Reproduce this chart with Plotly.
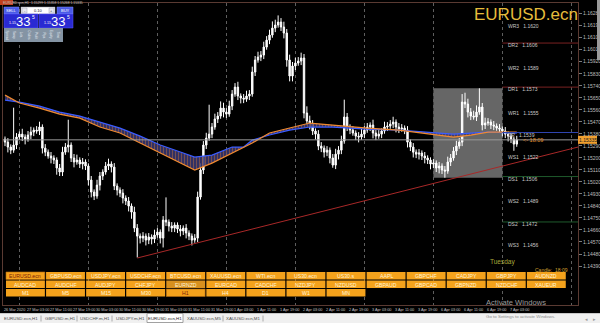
import plotly.graph_objects as go

W, H = 600, 323

# ---------------- data ----------------
first_open = 1.15340
close = [
    1.15318, 1.15281, 1.15258, 1.15296, 1.15356, 1.15378, 1.15356, 1.15341, 1.15371, 1.15393,
    1.15408, 1.15401, 1.15431, 1.15273, 1.15243, 1.15214, 1.15199, 1.15184, 1.15124, 1.15094,
    1.15243, 1.15281, 1.15296, 1.15199, 1.15169, 1.15184, 1.15154, 1.15169, 1.15139, 1.15034,
    1.14944, 1.14914, 1.14996, 1.15064, 1.15094, 1.15139, 1.15154, 1.15131, 1.14989, 1.14959,
    1.14936, 1.14899, 1.14877, 1.14839, 1.14794, 1.14674, 1.14614, 1.14599, 1.14614, 1.14584,
    1.14607, 1.14592, 1.14622, 1.14644, 1.14599, 1.14734, 1.14719, 1.14689, 1.14674, 1.14697,
    1.14667, 1.14652, 1.14674, 1.14637, 1.14614, 1.14584, 1.14599, 1.14907, 1.15109, 1.15296,
    1.15348, 1.15378, 1.15431, 1.15491, 1.15513, 1.15573, 1.15543, 1.15528, 1.15588, 1.15678,
    1.15730, 1.15663, 1.15648, 1.15640, 1.15663, 1.15678, 1.15843, 1.15933, 1.15955, 1.15970,
    1.16030, 1.16082, 1.16120, 1.16172, 1.16195, 1.16217, 1.16180, 1.16135, 1.15933, 1.15813,
    1.15888, 1.15910, 1.15925, 1.15948, 1.15536, 1.15476, 1.15453, 1.15401, 1.15378, 1.15288,
    1.15273, 1.15243, 1.15258, 1.15199, 1.15146, 1.15228, 1.15258, 1.15326, 1.15506, 1.15431,
    1.15408, 1.15386, 1.15363, 1.15356, 1.15378, 1.15408, 1.15431, 1.15446, 1.15386, 1.15363,
    1.15378, 1.15401, 1.15431, 1.15438, 1.15453, 1.15468, 1.15431, 1.15416, 1.15423, 1.15408,
    1.15318, 1.15281, 1.15243, 1.15228, 1.15236, 1.15214, 1.15199, 1.15184, 1.15154, 1.15161,
    1.15124, 1.15139, 1.15109, 1.15101, 1.15169, 1.15199, 1.15251, 1.15288, 1.15318, 1.15618,
    1.15603, 1.15543, 1.15513, 1.15506, 1.15543, 1.15581, 1.15446, 1.15461, 1.15468, 1.15446,
    1.15438, 1.15423, 1.15416, 1.15401, 1.15378, 1.15363, 1.15341, 1.15303, 1.15335,
]
up_wick_pips = [
    2, 3, 2, 28, 3, 2, 4, 2, 3, 4,
    2, 3, 4, 2, 3, 2, 3, 2, 2, 3,
    4, 3, 19, 2, 3, 4, 2, 3, 2, 2,
    3, 2, 4, 3, 2, 3, 4, 2, 3, 2,
    2, 3, 2, 3, 2, 4, 3, 2, 3, 2,
    3, 2, 4, 3, 2, 3, 17, 2, 3, 2,
    2, 3, 2, 3, 2, 2, 3, 4, 5, 3,
    4, 22, 3, 4, 3, 5, 4, 3, 4, 3,
    3, 4, 2, 3, 4, 3, 4, 3, 4, 3,
    4, 3, 4, 5, 4, 5, 3, 4, 3, 4,
    3, 4, 3, 4, 3, 5, 4, 3, 2, 3,
    3, 2, 3, 2, 3, 4, 3, 4, 13, 3,
    2, 3, 2, 3, 4, 3, 3, 2, 4, 3,
    3, 2, 4, 3, 3, 4, 2, 3, 3, 2,
    3, 2, 3, 2, 3, 2, 3, 2, 2, 3,
    2, 3, 2, 3, 4, 3, 3, 4, 3, 6,
    7, 4, 3, 4, 5, 14, 3, 4, 3, 2,
    3, 2, 3, 2, 3, 2, 3, 2, 3,
]
down_wick_pips = [
    3, 4, 3, 2, 3, 2, 3, 4, 2, 3,
    3, 2, 3, 4, 3, 2, 4, 3, 5, 3,
    3, 2, 4, 3, 4, 2, 3, 4, 3, 4,
    4, 3, 2, 4, 3, 2, 3, 4, 3, 4,
    3, 4, 3, 4, 5, 3, 16, 4, 3, 4,
    3, 4, 3, 2, 4, 7, 3, 4, 3, 3,
    3, 4, 3, 4, 3, 4, 2, 3, 2, 3,
    3, 2, 3, 2, 3, 2, 4, 3, 2, 3,
    2, 3, 4, 3, 2, 3, 2, 3, 2, 3,
    3, 2, 3, 2, 3, 2, 3, 4, 5, 4,
    4, 3, 2, 3, 4, 3, 4, 3, 4, 3,
    3, 4, 3, 4, 2, 3, 4, 3, 2, 3,
    3, 2, 3, 4, 2, 3, 2, 3, 4, 3,
    2, 3, 2, 3, 2, 3, 4, 3, 2, 3,
    4, 3, 4, 3, 4, 3, 4, 3, 4, 3,
    3, 4, 3, 5, 2, 3, 2, 3, 2, 3,
    3, 4, 3, 2, 3, 2, 4, 3, 2, 3,
    3, 2, 3, 4, 3, 4, 3, 5, 2,
]

ma_bars = [0, 5, 12, 19, 26, 33, 40, 47, 54, 61, 66, 72, 79, 83, 86, 92, 99, 106, 114, 126, 137, 151, 156, 162, 168, 178]
ma_fast = [1.15670, 1.15611, 1.15573, 1.15528, 1.15498, 1.15431, 1.15386, 1.15311, 1.15236, 1.15161,
           1.15109, 1.15161, 1.15236, 1.15273, 1.15311, 1.15386, 1.15423, 1.15461, 1.15446, 1.15423,
           1.15408, 1.15371, 1.15356, 1.15371, 1.15393, 1.15393]
ma_slow = [1.15633, 1.15618, 1.15588, 1.15543, 1.15513, 1.15468, 1.15423, 1.15363, 1.15296, 1.15244,
           1.15206, 1.15221, 1.15281, 1.15281, 1.15333, 1.15371, 1.15408, 1.15431, 1.15431, 1.15416,
           1.15408, 1.15386, 1.15378, 1.15386, 1.15393, 1.15386]

trend_bars = [46, 199.3]
trend_prices = [1.14450, 1.15281]

prev_day_bars = [149, 173]          # Monday 6 Apr session
bid_price = 1.15335

pivot_names = ["WR3", "DR2", "WR2", "DR1", "WR1", "DP", "WS1", "DS1", "WS2", "DS2", "WS3"]
pivot_values = [1.1620, 1.1606, 1.1589, 1.1573, 1.1555, 1.1539, 1.1522, 1.1506, 1.1489, 1.1472, 1.1456]
pivot_start_bar = 173

price_ticks = [1.16280, 1.16190, 1.16100, 1.16010, 1.15920, 1.15830, 1.15740, 1.15650, 1.15560, 1.15470, 1.15380,
               1.15290, 1.15200, 1.15110, 1.15020, 1.14930, 1.14840, 1.14750, 1.14660, 1.14570, 1.14480, 1.14390]

day_start_bars = [5, 29, 53, 77, 101, 125, 149, 173, 197]
time_label_bars = [0, 8, 16, 24, 32, 40, 48, 56, 64, 72, 80, 88, 96, 104, 112, 120, 128, 136, 144, 152, 160, 168, 176]
time_labels = ["26 Mar 2020", "27 Mar 03:00", "27 Mar 11:00", "27 Mar 19:00", "30 Mar 03:00", "30 Mar 11:00",
               "30 Mar 19:00", "31 Mar 03:00", "31 Mar 11:00", "31 Mar 19:00", "1 Apr 03:00", "1 Apr 11:00",
               "1 Apr 19:00", "2 Apr 03:00", "2 Apr 11:00", "2 Apr 19:00", "3 Apr 03:00", "3 Apr 11:00",
               "3 Apr 19:00", "6 Apr 03:00", "6 Apr 11:00", "6 Apr 19:00", "7 Apr 03:00"]

row1_symbols = ["EURUSD.ecn", "GBPUSD.ecn", "USDJPY.ecn", "USDCHF.ecn", "BTCUSD.ecn", "XAUUSD.ecn", "WTI.ecn",
                "US30.ecn", "US30.s", "AAPL", "GBPCHF", "CADJPY", "GBPJPY", "AUDNZD"]
row2_symbols = ["AUDCAD", "AUDCHF", "AUDJPY", "CHFJPY", "EURNZD", "EURCAD", "CADCHF",
                "NZDJPY", "NZDUSD", "GBPAUD", "GBPCAD", "GBPNZD", "NZDCHF", "XAUEUR"]
row3_periods = ["M1", "M5", "M15", "M30", "H1", "H4", "D1", "W1", "MN"]

tab_names = ["EURUSD.ecn,H1", "GBPUSD.m,H1", "USDCHF.m,H1", "USDJPY.m,H1", "EURUSD.ecn,H1", "XAUUSD.ecn,M5", "XAUUSD.ecn,M1"]
active_tab = 4

header_text = "EURUSD.ecn,H1  1.15299 1.15358 1.15268 1.15335"
quote_big = "33"
quote_small = "1.15"
quote_pip = "5"
lot_text = "0.10"

# ---------------- derived ----------------
bars = list(range(len(close)))
opens = [first_open] + close[:-1]
highs = [max(o, c) + u * 0.0001 for o, c, u in zip(opens, close, up_wick_pips)]
lows = [min(o, c) - d * 0.0001 for o, c, d in zip(opens, close, down_wick_pips)]
box_hi = max(highs[prev_day_bars[0]:prev_day_bars[1]])
box_lo = min(lows[prev_day_bars[0]:prev_day_bars[1]])

FONT = "Liberation Sans, Arial, sans-serif"


def px(x):
    return x / W


def py(y):
    return 1 - y / H


fig = go.Figure()

# MA ribbon
fig.add_trace(go.Scatter(x=ma_bars, y=ma_slow, mode="lines", line=dict(color="#3a5cff", width=1.2),
                         hoverinfo="skip"))
fig.add_trace(go.Scatter(x=ma_bars, y=ma_fast, mode="lines", line=dict(color="#f08a30", width=1.2),
                         fill="tonexty", fillcolor="rgba(40,48,120,0.85)",
                         fillpattern=dict(shape="|", fgcolor="#c8763c", bgcolor="rgba(40,48,120,0.85)",
                                          size=3, solidity=0.45),
                         hoverinfo="skip"))
# trend line
fig.add_trace(go.Scatter(x=trend_bars, y=trend_prices, mode="lines", line=dict(color="#a82828", width=1),
                         hoverinfo="skip"))
# candles
fig.add_trace(go.Candlestick(x=bars, open=opens, high=highs, low=lows, close=close,
                             increasing=dict(line=dict(color="#ffffff", width=1), fillcolor="#ffffff"),
                             decreasing=dict(line=dict(color="#ffffff", width=1), fillcolor="#ffffff"),
                             whiskerwidth=0, hoverinfo="skip"))

shapes = []
ann = []

# previous-day box
shapes.append(dict(type="rect", xref="x", yref="y", x0=prev_day_bars[0], x1=prev_day_bars[1],
                   y0=box_lo, y1=box_hi, fillcolor="#666666", line=dict(width=0), layer="below"))
# bid line
shapes.append(dict(type="line", xref="paper", yref="y", x0=px(3), x1=px(578), y0=bid_price, y1=bid_price,
                   line=dict(color="#9a9a9a", width=1)))

# pivot lines and labels
pivot_colors = {"DR": "#7a2222", "DP": "#2f44b0", "DS": "#1f5a2c"}
for name, val in zip(pivot_names, pivot_values):
    key = name[:2]
    if key in pivot_colors:
        shapes.append(dict(type="line", xref="x", yref="y", x0=pivot_start_bar, x1=199.3, y0=val, y1=val,
                           line=dict(color=pivot_colors[key], width=1)))
    ann.append(dict(xref="x", yref="y", x=pivot_start_bar, y=val, text=f"{name}&nbsp;&nbsp;&nbsp;{val:.4f}",
                    showarrow=False, xanchor="left", yanchor="middle", xshift=4, yshift=-2,
                    font=dict(family=FONT, size=5, color="#c8c8c8")))

# big symbol title
ann.append(dict(xref="paper", yref="paper", x=px(526), y=py(15), text="EURUSD.ecn", showarrow=False,
                xanchor="center", yanchor="middle", font=dict(family=FONT, size=17, color="#e6bd3c")))
# Tuesday
ann.append(dict(xref="x", yref="paper", x=173, y=py(262), text="Tuesday", showarrow=False,
                xanchor="center", yanchor="middle", font=dict(family=FONT, size=6.5, color="#a8a83a")))
# candle timer
ann.append(dict(xref="x", yref="y", x=179.5, y=bid_price, text="<- 18:09", showarrow=False,
                xanchor="left", yanchor="middle", font=dict(family=FONT, size=5.5, color="#e0902a")))
ann.append(dict(xref="paper", yref="paper", x=px(570), y=py(270), text="Candle:&nbsp;&nbsp;18:09", showarrow=False,
                xanchor="right", yanchor="middle", font=dict(family=FONT, size=5, color="#d8a030")))

# bid box on price axis
shapes.append(dict(type="rect", xref="paper", yref="y", x0=px(578), x1=px(597), y0=bid_price - 0.0003,
                   y1=bid_price + 0.0003, fillcolor="#f0a030", line=dict(width=0)))
ann.append(dict(xref="paper", yref="y", x=px(587.5), y=bid_price, text=f"{bid_price:.5f}", showarrow=False,
                xanchor="center", yanchor="middle", font=dict(family=FONT, size=5, color="#1a1a1a")))

# header
shapes.append(dict(type="rect", xref="paper", yref="paper", x0=0, x1=px(13), y0=py(5), y1=py(0),
                   fillcolor="#c0401e", line=dict(width=0)))
ann.append(dict(xref="paper", yref="paper", x=px(1), y=py(2.6), text=header_text, showarrow=False,
                xanchor="left", yanchor="middle", font=dict(family=FONT, size=3.4, color="#c0c0c0")))

# trade panel
def rect(x0, y0, x1, y1, fill, line_color=None, lw=0):
    shapes.append(dict(type="rect", xref="paper", yref="paper", x0=px(x0), x1=px(x1), y0=py(y1), y1=py(y0),
                       fillcolor=fill, line=dict(color=line_color or fill, width=lw)))


def text(x, y, s, size, color, anchor="center", angle=0):
    ann.append(dict(xref="paper", yref="paper", x=px(x), y=py(y), text=s, showarrow=False, xanchor=anchor,
                    yanchor="middle", textangle=angle, font=dict(family=FONT, size=size, color=color)))


rect(4, 7, 19, 14, "#4b5be6", "#8090ff", 0.5)
text(11.5, 10.5, "SELL", 4, "#ffffff")
rect(21, 7, 55, 14, "#ffffff", "#9090a0", 0.5)
rect(22, 8, 27, 13, "#e8e8ee", "#a0a0b0", 0.5)
rect(49, 8, 54, 13, "#e8e8ee", "#a0a0b0", 0.5)
text(24.5, 10.5, "-", 4, "#303030")
text(51.5, 10.5, "+", 4, "#303030")
text(38, 10.5, lot_text, 4, "#202020")
rect(57, 7, 73, 14, "#4b5be6", "#8090ff", 0.5)
text(65, 10.5, "BUY", 4, "#ffffff")
for bx in (4, 39):
    rect(bx, 14, bx + 34, 28, "#2a2ad2", "#5a5aff", 0.5)
    text(bx + 3, 23.5, quote_small, 3.6, "#ffffff", "left")
    text(bx + 19, 21.5, quote_big, 13, "#ffffff")
    text(bx + 29.5, 17.5, quote_pip, 5, "#ffffff")
rect(4, 28, 63, 42, "#8494a4")
panel_cols = ["Spread", "Swap", "Lots", "Orders", "Profit", "Pips", "Equity", "Time"]
for k, s in enumerate(panel_cols):
    text(6.5 + k * 7.4, 35, s, 3, "#e8eef4", "center", 90)

# thin right strip
rect(597, 0, 600, 60, "#9a9a9a")

# button grid
btn_orange = "#f4a21c"
col_step = 40.07
for r, (labels, y0, y1) in enumerate([(row1_symbols, 272, 279.5), (row2_symbols, 280.5, 288),
                                      (row3_periods, 289, 296.5)]):
    for c, lab in enumerate(labels):
        x0 = 6 + c * col_step
        x1 = x0 + col_step - 1.2
        hl = (r == 0 and c == 0) or (r == 2 and lab == "H1")
        dark = (r == 1 and lab == "EURNZD")
        fill = "#d8901e" if dark else btn_orange
        rect(x0, y0, x1, y1, fill, "#b06a10" if hl else fill, 0.6 if hl else 0)
        text((x0 + x1) / 2, (y0 + y1) / 2 + 0.3, lab, 5.2, "#7a1a08" if hl else "#fff4d8")

# time labels under chart
for b, lab in zip(time_label_bars, time_labels):
    ann.append(dict(xref="x", yref="paper", x=b, y=py(310), text=lab, showarrow=False, xanchor="left",
                    yanchor="middle", xshift=-3, font=dict(family=FONT, size=3.8, color="#c4c4c4")))

# tab bar
rect(0, 313.5, 600, 323, "#f0f0f0")
shapes.append(dict(type="line", xref="paper", yref="paper", x0=0, x1=1, y0=py(313.5), y1=py(313.5),
                   line=dict(color="#c8c8c8", width=1)))
tab_centers = [21, 60, 95, 130, 165, 204, 243]
tab_seps = [41, 77, 112, 146, 184, 223, 263]
rect(147, 313.5, 183, 322.5, "#ffffff", "#8a8a8a", 0.8)
for k, (name, cx) in enumerate(zip(tab_names, tab_centers)):
    text(cx, 318.5, name, 4.4, "#202020" if k == active_tab else "#4a4a4a")
for sx in tab_seps:
    if sx in (146, 184):
        continue
    shapes.append(dict(type="line", xref="paper", yref="paper", x0=px(sx), x1=px(sx), y0=py(315.5),
                       y1=py(321.5), line=dict(color="#9a9a9a", width=0.8)))
text(586, 318.5, "◂", 5, "#9a9a9a")
text(594, 318.5, "▸", 5, "#9a9a9a")

# watermark (sits over the bottom edge, as in the screenshot)
text(484, 302.5, "Activate Windows", 7.6, "#9c9c9c", "left")
text(484, 316, "Go to Settings to activate Windows.", 4.4, "#8c8c8c", "left")

fig.update_layout(
    width=W, height=H, margin=dict(l=0, r=0, t=0, b=0, pad=0),
    paper_bgcolor="#000000", plot_bgcolor="#000000", showlegend=False,
    font=dict(family=FONT),
    xaxis=dict(domain=[px(3), px(578)], range=[-0.7, 199.3], showgrid=True, gridcolor="#5e5e5e",
               griddash="dot", gridwidth=1, tickvals=day_start_bars, showticklabels=False, ticks="",
               zeroline=False, showline=True, linecolor="#5a3a32", mirror=True,
               rangeslider=dict(visible=False), automargin=False, fixedrange=True),
    yaxis=dict(domain=[1 - 305 / H, 1 - 3 / H], range=[1.14098, 1.16360], side="right",
               tickvals=price_ticks, ticktext=[f"{v:.5f}" for v in price_ticks],
               tickfont=dict(family=FONT, size=5, color="#bdbdbd"), ticks="outside", ticklen=3,
               tickcolor="#7a7a7a", showgrid=False, zeroline=False, showline=True, linecolor="#5a3a32",
               mirror=True, automargin=False, fixedrange=True),
    shapes=shapes, annotations=ann,
)

fig.write_html("out.html")
